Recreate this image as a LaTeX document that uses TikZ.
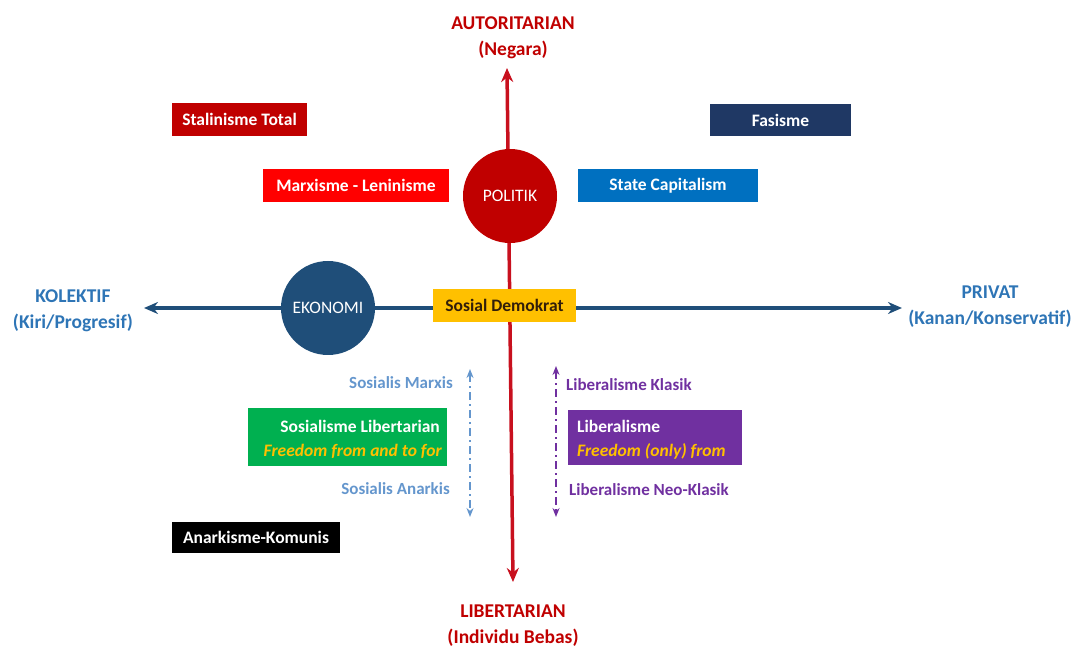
\documentclass[tikz,border=0pt]{standalone}
\usepackage{fontspec}
\setmainfont{Carlito}
\usetikzlibrary{arrows.meta}
\definecolor{dred}{RGB}{192,0,0}
\definecolor{axred}{RGB}{200,16,30}
\definecolor{navy}{RGB}{31,56,100}
\definecolor{ekblue}{RGB}{31,78,121}
\definecolor{axblue}{RGB}{31,78,121}
\definecolor{lblue}{RGB}{46,117,182}
\definecolor{sblue}{RGB}{0,112,192}
\definecolor{brred}{RGB}{255,0,0}
\definecolor{gold}{RGB}{255,192,0}
\definecolor{green}{RGB}{0,176,80}
\definecolor{purple}{RGB}{112,48,160}
\definecolor{skyb}{RGB}{100,150,205}
\definecolor{dtext}{RGB}{50,30,10}
\begin{document}
\begin{tikzpicture}[x=1pt,y=-1pt,
  box/.style={font=\bfseries\fontsize{17.5}{21}\selectfont, text=white, inner sep=0pt, anchor=center},
  txt/.style={font=\bfseries\fontsize{17.5}{21}\selectfont, text=white, inner sep=0pt},
  axlab/.style={font=\bfseries\fontsize{19.5}{26}\selectfont, align=center},
  sidelab/.style={font=\bfseries\fontsize{17}{20}\selectfont, inner sep=0pt},
  circ/.style={circle, inner sep=0pt, minimum size=94pt, text=white, font=\fontsize{17.5}{20}\selectfont},
  dd/.style={dash pattern=on 8pt off 4pt on 2pt off 4pt, line width=1.8pt, {Stealth[length=9pt,width=7pt]}-{Stealth[length=9pt,width=7pt]}}
]
\useasboundingbox (0,0) rectangle (1080,647);
% axes
\coordinate (vt) at (507,68);
\coordinate (vb) at (513,582);
\coordinate (hl) at (144,308);
\coordinate (hr) at (902,308);
\draw[axred, line width=3.5pt, {Stealth[length=14pt,width=12pt]}-{Stealth[length=14pt,width=12pt]}] (vt) -- (vb);
\draw[axblue, line width=3.5pt, {Stealth[length=14pt,width=12pt]}-{Stealth[length=14pt,width=12pt]}] (hl) -- (hr);
% axis labels
\node[axlab, text=dred] (aut) at (513,38) {AUTORITARIAN\\(Negara)};
\node[axlab, text=dred] (lib) at (513,626) {LIBERTARIAN\\(Individu Bebas)};
\node[axlab, text=lblue] (kol) at (73,311) {KOLEKTIF\\(Kiri/Progresif)};
\node[axlab, text=lblue] (pri) at (990,307) {PRIVAT\\(Kanan/Konservatif)};
% circles
\node[circ, fill=dred] (pol) at (510,196) {POLITIK};
\node[circ, fill=ekblue] (eko) at (328,308) {EKONOMI};
% boxes
\node[box, fill=dred, minimum width=135pt, minimum height=33pt] (sta) at (239.5,119.5) {Stalinisme Total};
\node[box, fill=navy, minimum width=141pt, minimum height=32pt] (fas) at (780.5,120) {Fasisme};
\node[box, fill=brred, minimum width=186pt, minimum height=33pt] (mar) at (356,185.5) {Marxisme - Leninisme};
\node[box, fill=sblue, minimum width=180pt, minimum height=33pt] (stc) at (668,185.5) {State Capitalism};
\node[box, fill=gold, text=dtext, minimum width=143pt, minimum height=33pt] (sos) at (504.5,305.5) {Sosial Demokrat};
\node[box, fill=black, minimum width=168pt, minimum height=31pt] (ana) at (256,537.5) {Anarkisme-Komunis};
\node[box, fill=green, minimum width=199pt, minimum height=58pt] (slib) at (347.5,437) {};
\node[txt, anchor=east] (slib1) at (440,426) {Sosialisme Libertarian};
\node[txt, anchor=east, text=gold, font=\bfseries\itshape\fontsize{17.5}{21}\selectfont] (slib2) at (442,451) {Freedom from and to for};
\node[box, fill=purple, minimum width=174pt, minimum height=55pt] (libe) at (655,437.5) {};
\node[txt, anchor=west] (libe1) at (577,426) {Liberalisme};
\node[txt, anchor=west, text=gold, font=\bfseries\itshape\fontsize{17.5}{21}\selectfont] (libe2) at (577,451) {Freedom (only) from};
% side labels
\node[sidelab, text=skyb, anchor=east] (smx) at (453,383) {Sosialis Marxis};
\node[sidelab, text=skyb, anchor=east] (san) at (450,489) {Sosialis Anarkis};
\node[sidelab, text=purple, anchor=west] (lkl) at (566,385) {Liberalisme Klasik};
\node[sidelab, text=purple, anchor=west] (lnk) at (569,490) {Liberalisme Neo-Klasik};
% dashed arrows
\coordinate (b1) at (470,369);
\coordinate (b2) at (470,517);
\coordinate (p1) at (556,366);
\coordinate (p2) at (556,517);
\draw[dd, skyb] (b1) -- (b2);
\draw[dd, purple] (p1) -- (p2);
\end{tikzpicture}
\end{document}
